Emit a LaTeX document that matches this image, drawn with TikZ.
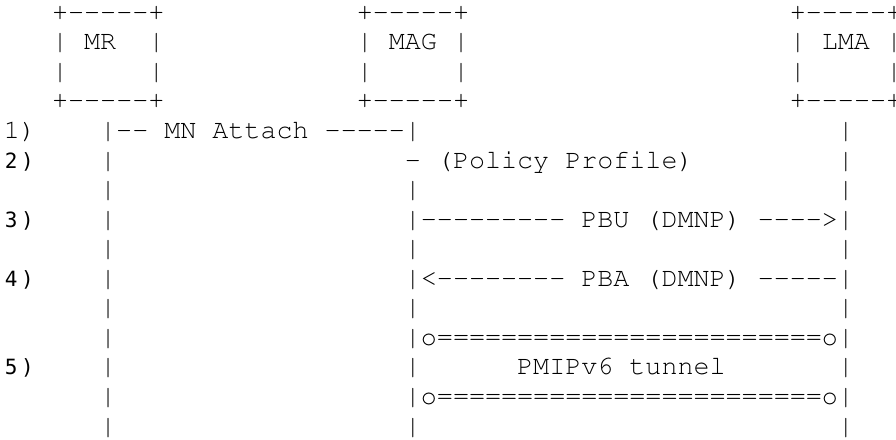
\documentclass[tikz,border=0pt]{standalone}
\usepackage[T1]{fontenc}
\usepackage{fontspec}
\newfontfamily\dvsm{DejaVu Sans Mono}
\newcommand\cour{\fontencoding{T1}\fontfamily{pcr}\fontseries{m}\fontshape{n}\fontsize{26.73}{29.55}\selectfont\frenchspacing}
\newcommand\labfont{\dvsm\fontsize{21}{29.55}\selectfont}
\newlength\cw \setlength\cw{16.038pt}
\newcommand\gapc[1]{\hspace*{#1\cw}}
\newcount\hycnt
\newcommand\hy[1]{\hycnt=#1\relax\loop-\kern0pt\advance\hycnt by -1\relax\ifnum\hycnt>0\repeat}
\newcommand\lbl[1]{#1\kern3.5pt)}
\tikzset{
  txt/.style={inner sep=0pt, outer sep=0pt, anchor=base west, font=\cour, text=black},
  lab/.style={inner sep=0pt, outer sep=0pt, anchor=base west, font=\labfont, text=black},
}
\begin{document}
\begin{tikzpicture}[x=1pt,y=1pt]
\fill[white] (0,0) rectangle (896,439);
\useasboundingbox (0,0) rectangle (896,439);
% rows: baseline y = 418.7 - 29.55 i ; column x = 4 + 16.038 c
\node[txt] (r0) at (52.1,418.7) {+\hy{5}+\gapc{12}+\hy{5}+\gapc{20}+\hy{5}+};
\node[txt] (r1) at (52.1,389.15) {|\gapc{1}MR\gapc{2}|\gapc{12}|\gapc{1}MAG\gapc{1}|\gapc{20}|\gapc{1}LMA\gapc{1}|};
\node[txt] (r2) at (52.1,359.6) {|\gapc{5}|\gapc{12}|\gapc{5}|\gapc{20}|\gapc{5}|};
\node[txt] (r3) at (52.1,330.05) {+\hy{5}+\gapc{12}+\hy{5}+\gapc{20}+\hy{5}+};
\node[txt] (l1) at (4,300.5) {1)};
\node[txt] (r4) at (100.2,300.5) {|\hy{2}~MN~Attach~\hy{5}|\gapc{26}|};
\node[lab] (l2) at (5,270.95) {\lbl{2}};
\node[txt] (r5) at (100.2,270.95) {|\gapc{18}-~(Policy~Profile)\gapc{9}|};
\node[txt] (r6) at (100.2,241.4) {|\gapc{18}|\gapc{26}|};
\node[lab] (l3) at (5,211.85) {\lbl{3}};
\node[txt] (r7) at (100.2,211.85) {|\gapc{18}|\hy{9}~PBU~(DMNP)~\hy{4}>|};
\node[txt] (r8) at (100.2,182.3) {|\gapc{18}|\gapc{26}|};
\node[lab] (l4) at (5,152.75) {\lbl{4}};
\node[txt] (r9) at (100.2,152.75) {|\gapc{18}|<\hy{8}~PBA~(DMNP)~\hy{5}|};
\node[txt] (r10) at (100.2,123.2) {|\gapc{18}|\gapc{26}|};
\node[txt] (r11) at (100.2,93.65) {|\gapc{18}|o========================o|};
\node[lab] (l5) at (5,64.1) {\lbl{5}};
\node[txt] (r12) at (100.2,64.1) {|\gapc{18}|\gapc{6}PMIPv6~tunnel\gapc{7}|};
\node[txt] (r13) at (100.2,34.55) {|\gapc{18}|o========================o|};
\node[txt] (r14) at (100.2,5.0) {|\gapc{18}|\gapc{26}|};
\end{tikzpicture}
\end{document}
